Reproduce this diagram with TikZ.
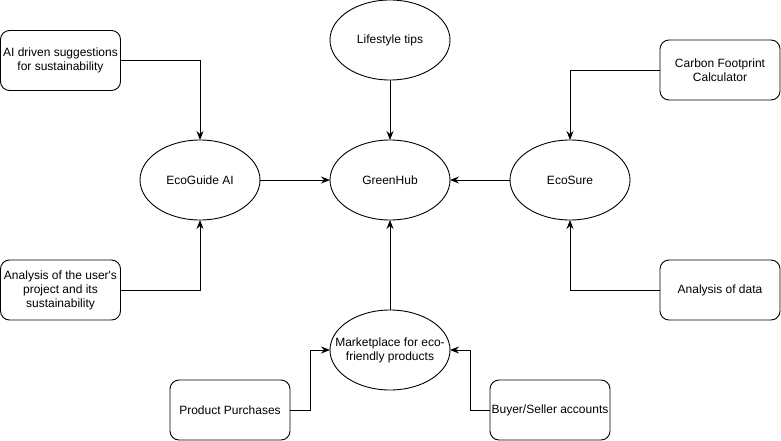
\documentclass[tikz,border=0pt]{standalone}
\usepackage{fontspec}
\setmainfont{Liberation Sans}
\usetikzlibrary{shapes.geometric,arrows.meta}
\tikzset{
    topic/.style={
        ,   ellipse
        ,   draw
        ,   minimum width=120pt
        ,   minimum height=80pt
        ,   inner sep=0pt
        ,   outer sep=0pt
        ,   align=center
    },
    source/.style={
        ,   rectangle
        ,   rounded corners=9pt
        ,   draw
        ,   minimum width=120pt
        ,   minimum height=60pt
        ,   inner sep=0pt
        ,   outer sep=0pt
        ,   align=center
    },
    feed/.style={
        ,   -{Stealth[length=9pt,width=7pt,inset=3pt]}
        ,   line width=0.9pt
    }
}

\begin{document}
\begin{tikzpicture}[x=1pt, y=-1pt, line width=0.9pt, font={\fontsize{12pt}{14pt}\selectfont}]
\useasboundingbox (0,0) rectangle (781,441);

% centre and its four topics
\node[topic] (hub) at (390,180) {GreenHub};
\node[topic] (tips) at (390,40) {Lifestyle tips};
\node[topic] (guide) at (200,180) {EcoGuide AI};
\node[topic] (sure) at (570,180) {EcoSure};
\node[topic, inner xsep=-25pt, inner ysep=-10pt] (market) at (390,350) {Marketplace for eco-\\friendly products};

% boxes feeding the topics
\node[source] (suggest) at (60.5,60.5) {AI driven suggestions\\for sustainability};
\node[source] (project) at (60.5,290) {Analysis of the user\textquotesingle s\\project and its\\sustainability};
\node[source] (carbon) at (720,70) {Carbon Footprint\\Calculator};
\node[source] (data) at (720,290) {Analysis of data};
\node[source] (purchase) at (230,410) {Product Purchases};
\node[source] (account) at (550,410) {Buyer/Seller accounts};

\draw[feed] (tips) -- (hub);
\draw[feed] (guide) -- (hub);
\draw[feed] (sure) -- (hub);
\draw[feed] (market) -- (hub);

\draw[feed] (suggest.east) -| (guide.north);
\draw[feed] (project.east) -| (guide.south);
\draw[feed] (carbon.west) -| (sure.north);
\draw[feed] (data.west) -| (sure.south);

\draw[feed] (purchase.east) -- ++(20,0) |- (market.west);
\draw[feed] (account.west) -- ++(-20,0) |- (market.east);
\end{tikzpicture}
\end{document}
